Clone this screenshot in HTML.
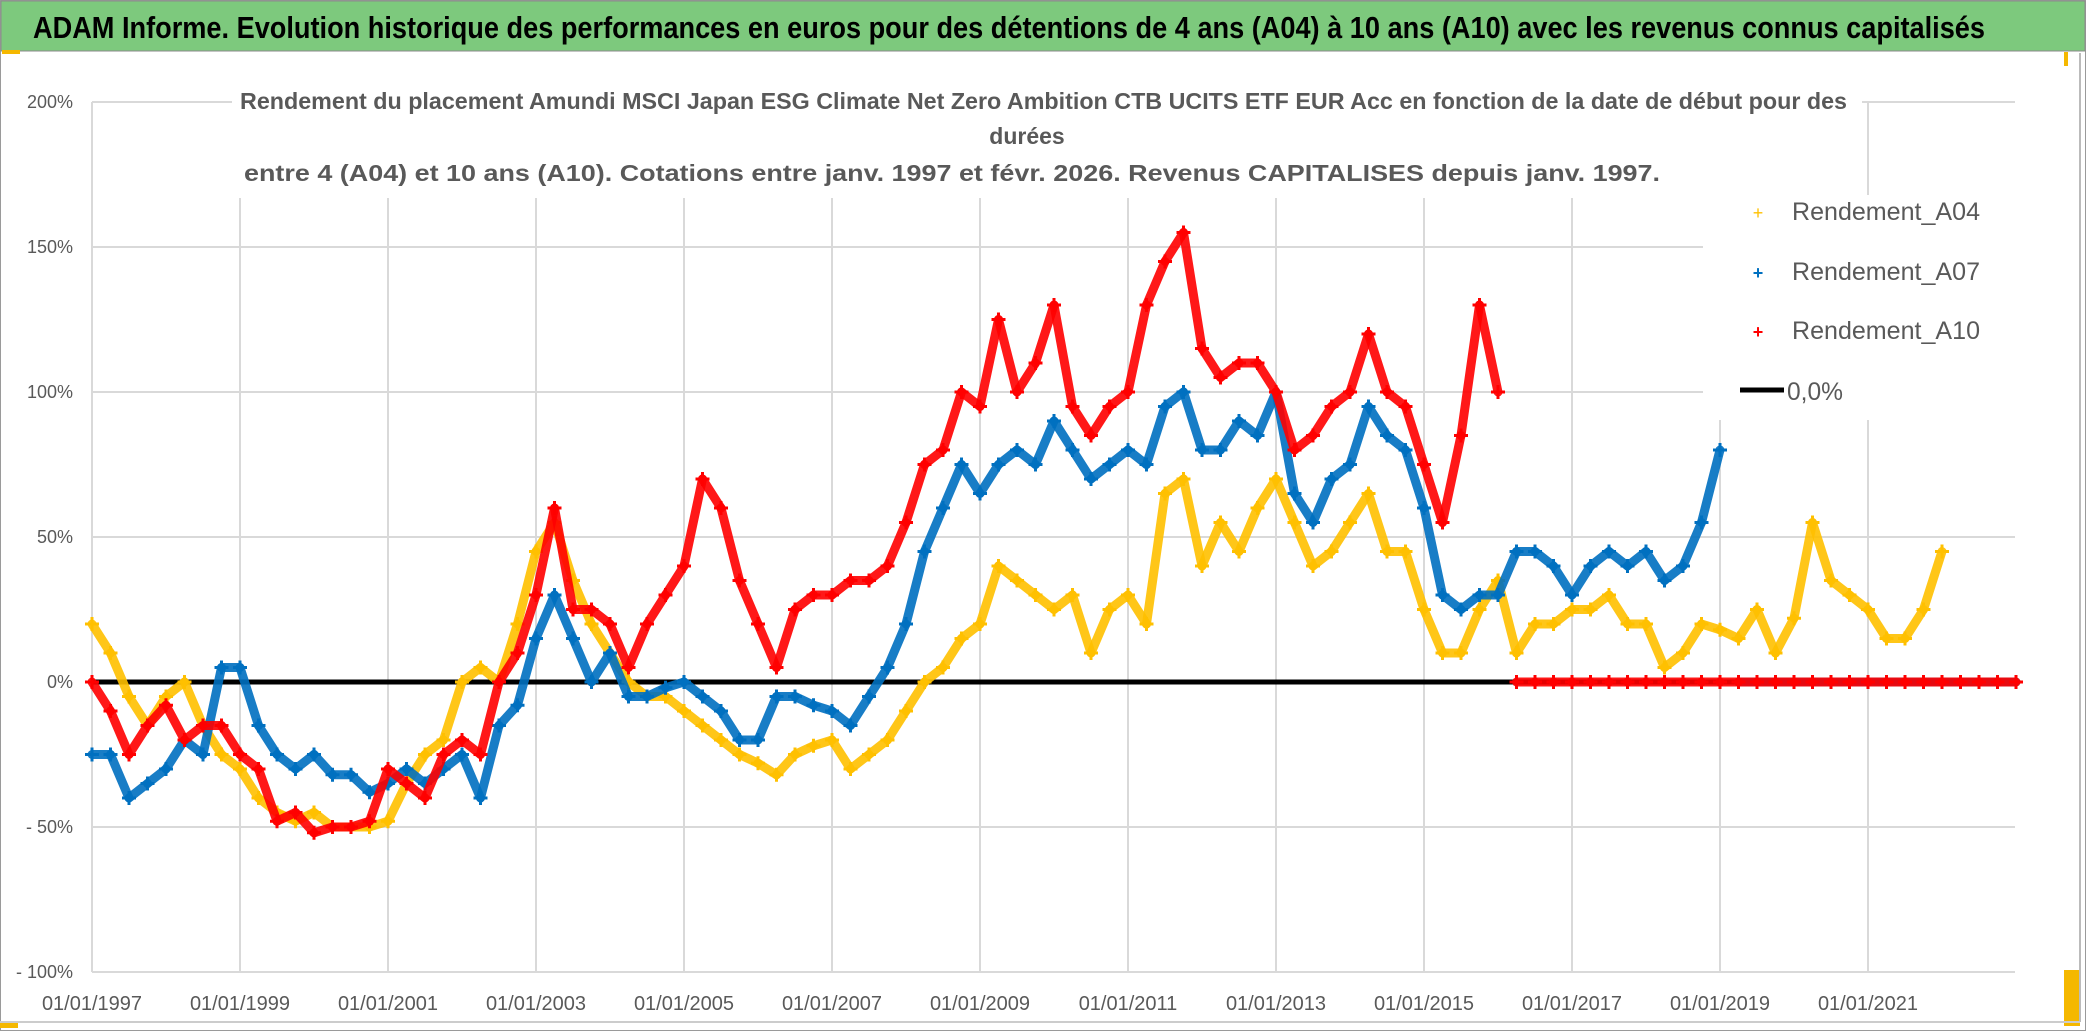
<!DOCTYPE html>
<html><head><meta charset="utf-8"><style>
html,body{margin:0;padding:0;background:#fff;}
svg{display:block;font-family:"Liberation Sans Narrow","Liberation Sans",sans-serif;}
</style></head><body>
<svg id="chart" width="2086" height="1031" viewBox="0 0 2086 1031" xmlns="http://www.w3.org/2000/svg">
<rect x="0" y="0" width="2086" height="1031" fill="#fff"/>
<rect x="0.5" y="0.5" width="2085" height="1030" fill="none" stroke="#9a9a9a"/>
<rect x="1" y="1" width="2084" height="50" fill="#7dc97d" stroke="#8a8a8a"/>
<text x="33" y="38" font-size="31" font-weight="bold" fill="#000" textLength="1952" lengthAdjust="spacingAndGlyphs">ADAM Informe. Evolution historique des performances en euros pour des détentions de 4 ans (A04) à 10 ans (A10) avec les revenus connus capitalisés</text>
<rect x="2" y="50" width="18" height="4" fill="#f5b800"/>
<rect x="2064" y="52" width="4" height="14" fill="#f5b800"/>
<rect x="2064" y="970" width="16" height="56" fill="#f5b800"/>
<rect x="0" y="1022" width="18" height="6" fill="#f5b800"/>
<line x1="2080" y1="53" x2="2080" y2="1022" stroke="#bbb" stroke-width="2"/>
<line x1="0" y1="1022" x2="2080" y2="1022" stroke="#ccc" stroke-width="2"/>
<g id="grid"></g>
<g id="yaxis"></g>
<g id="xaxis"></g>
<g id="series"></g>
<rect x="232" y="84" width="1630" height="114" fill="#fff"/>
<g font-weight="bold" fill="#595959" font-size="23">
<text x="240" y="109" textLength="1607" lengthAdjust="spacingAndGlyphs">Rendement du placement Amundi MSCI Japan ESG Climate Net Zero Ambition CTB UCITS ETF EUR Acc en fonction de la date de début pour des</text>
<text x="1027" y="144" text-anchor="middle">durées</text>
<text x="244" y="181" textLength="1416" lengthAdjust="spacingAndGlyphs">entre 4 (A04) et 10 ans (A10). Cotations entre janv. 1997 et févr. 2026. Revenus CAPITALISES depuis janv. 1997.</text>
</g>
<rect x="1703" y="195" width="335" height="225" fill="#fff"/>
<g font-size="25" fill="#595959">
<g><text x="1758" y="219" font-size="18" fill="#ffc000" text-anchor="middle">+</text><text x="1792" y="220" textLength="188" lengthAdjust="spacingAndGlyphs">Rendement_A04</text></g>
<g><text x="1758" y="279" font-size="18" fill="#0070c0" text-anchor="middle" font-weight="bold">+</text><text x="1792" y="280" textLength="188" lengthAdjust="spacingAndGlyphs">Rendement_A07</text></g>
<g><text x="1758" y="338" font-size="18" fill="#ff0000" text-anchor="middle" font-weight="bold">+</text><text x="1792" y="339" textLength="188" lengthAdjust="spacingAndGlyphs">Rendement_A10</text></g>
<g><line x1="1740" y1="390" x2="1784" y2="390" stroke="#000" stroke-width="5"/><text x="1787" y="400" textLength="56" lengthAdjust="spacingAndGlyphs">0,0%</text></g>
</g>
</svg>
<script>
const years = [1997,1997.25,1997.5,1997.75,1998,1998.25,1998.5,1998.75,1999,1999.25,1999.5,1999.75,2000,2000.25,2000.5,2000.75,2001,2001.25,2001.5,2001.75,2002,2002.25,2002.5,2002.75,2003,2003.25,2003.5,2003.75,2004,2004.25,2004.5,2004.75,2005,2005.25,2005.5,2005.75,2006,2006.25,2006.5,2006.75,2007,2007.25,2007.5,2007.75,2008,2008.25,2008.5,2008.75,2009,2009.25,2009.5,2009.75,2010,2010.25,2010.5,2010.75,2011,2011.25,2011.5,2011.75,2012,2012.25,2012.5,2012.75,2013,2013.25,2013.5,2013.75,2014,2014.25,2014.5,2014.75,2015,2015.25,2015.5,2015.75,2016,2016.25,2016.5,2016.75,2017,2017.25,2017.5,2017.75,2018,2018.25,2018.5,2018.75,2019,2019.25,2019.5,2019.75,2020,2020.25,2020.5,2020.75,2021,2021.25,2021.5,2021.75,2022,2022.25,2022.5,2022.75,2023];
const a04 = [20,10,-5,-15,-5,0,-15,-25,-30,-40,-45,-48,-45,-50,-50,-50,-48,-35,-25,-20,0,5,0,20,45,55,35,20,10,0,-5,-5,-10,-15,-20,-25,-28,-32,-25,-22,-20,-30,-25,-20,-10,0,5,15,20,40,35,30,25,30,10,25,30,20,65,70,40,55,45,60,70,55,40,45,55,65,45,45,25,10,10,25,35,10,20,20,25,25,30,20,20,5,10,20,18,15,25,10,22,55,35,30,25,15,15,25,45,0,0,0,0];
const a07 = [-25,-25,-40,-35,-30,-20,-25,5,5,-15,-25,-30,-25,-32,-32,-38,-35,-30,-35,-30,-25,-40,-15,-8,15,30,15,0,10,-5,-5,-2,0,-5,-10,-20,-20,-5,-5,-8,-10,-15,-5,5,20,45,60,75,65,75,80,75,90,80,70,75,80,75,95,100,80,80,90,85,100,65,55,70,75,95,85,80,60,30,25,30,30,45,45,40,30,40,45,40,45,35,40,55,80,0,0,0,0,0,0,0,0,0,0,0,0,0,0,0,0];
const a10 = [0,-10,-25,-15,-8,-20,-15,-15,-25,-30,-48,-45,-52,-50,-50,-48,-30,-35,-40,-25,-20,-25,0,10,30,60,25,25,20,5,20,30,40,70,60,35,20,5,25,30,30,35,35,40,55,75,80,100,95,125,100,110,130,95,85,95,100,130,145,155,115,105,110,110,100,80,85,95,100,120,100,95,75,55,85,130,100,0,0,0,0,0,0,0,0,0,0,0,0,0,0,0,0,0,0,0,0,0,0,0,0,0,0,0,0];
const yTicks = [200,150,100,50,0,-50,-100];
const yTickLabels = ["200%","150%","100%","50%","0%","- 50%","- 100%"];
const xTicks = [1997,1999,2001,2003,2005,2007,2009,2011,2013,2015,2017,2019,2021];
const xTickLabels = ["01/01/1997","01/01/1999","01/01/2001","01/01/2003","01/01/2005","01/01/2007","01/01/2009","01/01/2011","01/01/2013","01/01/2015","01/01/2017","01/01/2019","01/01/2021"];

const NS = "http://www.w3.org/2000/svg";
const PL = 92, PR = 2015, PT = 102, PB = 972;
function xs(t){ return PL + (t - 1997) * 74; }
function ys(v){ return PB - (v + 100) / 300 * (PB - PT); }
function mk(tag, attrs, parent){ const e = document.createElementNS(NS, tag); for (const k in attrs) e.setAttribute(k, attrs[k]); parent.appendChild(e); return e; }

const grid = document.getElementById('grid');
yTicks.forEach((v, i) => {
  const l = mk('line', {x1: PL, x2: PR, y1: ys(v), y2: ys(v), stroke: '#d9d9d9', 'stroke-width': 2}, grid);
  
  
  const t = mk('text', {x: 73, y: ys(v) + 6, 'text-anchor': 'end', 'font-size': 18, fill: '#595959'}, document.getElementById('yaxis'));
  t.textContent = yTickLabels[i];
  
  
});
xTicks.forEach((t0, i) => {
  const l = mk('line', {x1: xs(t0), x2: xs(t0), y1: PT, y2: PB, stroke: '#d9d9d9', 'stroke-width': 2}, grid);
  
  
  const t = mk('text', {x: xs(t0), y: 1010, 'text-anchor': 'middle', 'font-size': 20, fill: '#595959'}, document.getElementById('xaxis'));
  t.textContent = xTickLabels[i];
  
  
});

const series = document.getElementById('series');
const zl = mk('line', {x1: PL, x2: PR, y1: ys(0), y2: ys(0), stroke: '#000', 'stroke-width': 5}, series);



function drawSeries(vals, color, name){
  const g = mk('g', {}, series);
  
  
  for (let i = 0; i < vals.length - 1; i++){
    const a = vals[i], b = vals[i+1];
    if ((a === 0 && Math.abs(b) > 30) || (b === 0 && Math.abs(a) > 30)) continue;
    const seg = mk('line', {x1: xs(years[i]), y1: ys(a), x2: xs(years[i+1]), y2: ys(b), stroke: color, 'stroke-width': 9, 'stroke-linecap': 'round', opacity: 0.9}, g);
    
    
  }
  vals.forEach((v, i) => {
    const cx = xs(years[i]), cy = ys(v);
    const p = mk('path', {d: `M${cx-7},${cy}H${cx+7}M${cx},${cy-7}V${cy+7}`, stroke: color, 'stroke-width': 3, fill: 'none'}, g);
    
    
  });
}
drawSeries(a04, '#ffc000', 'series-a04');
drawSeries(a07, '#0070c0', 'series-a07');
drawSeries(a10, '#ff0000', 'series-a10');
</script>
</body></html>
